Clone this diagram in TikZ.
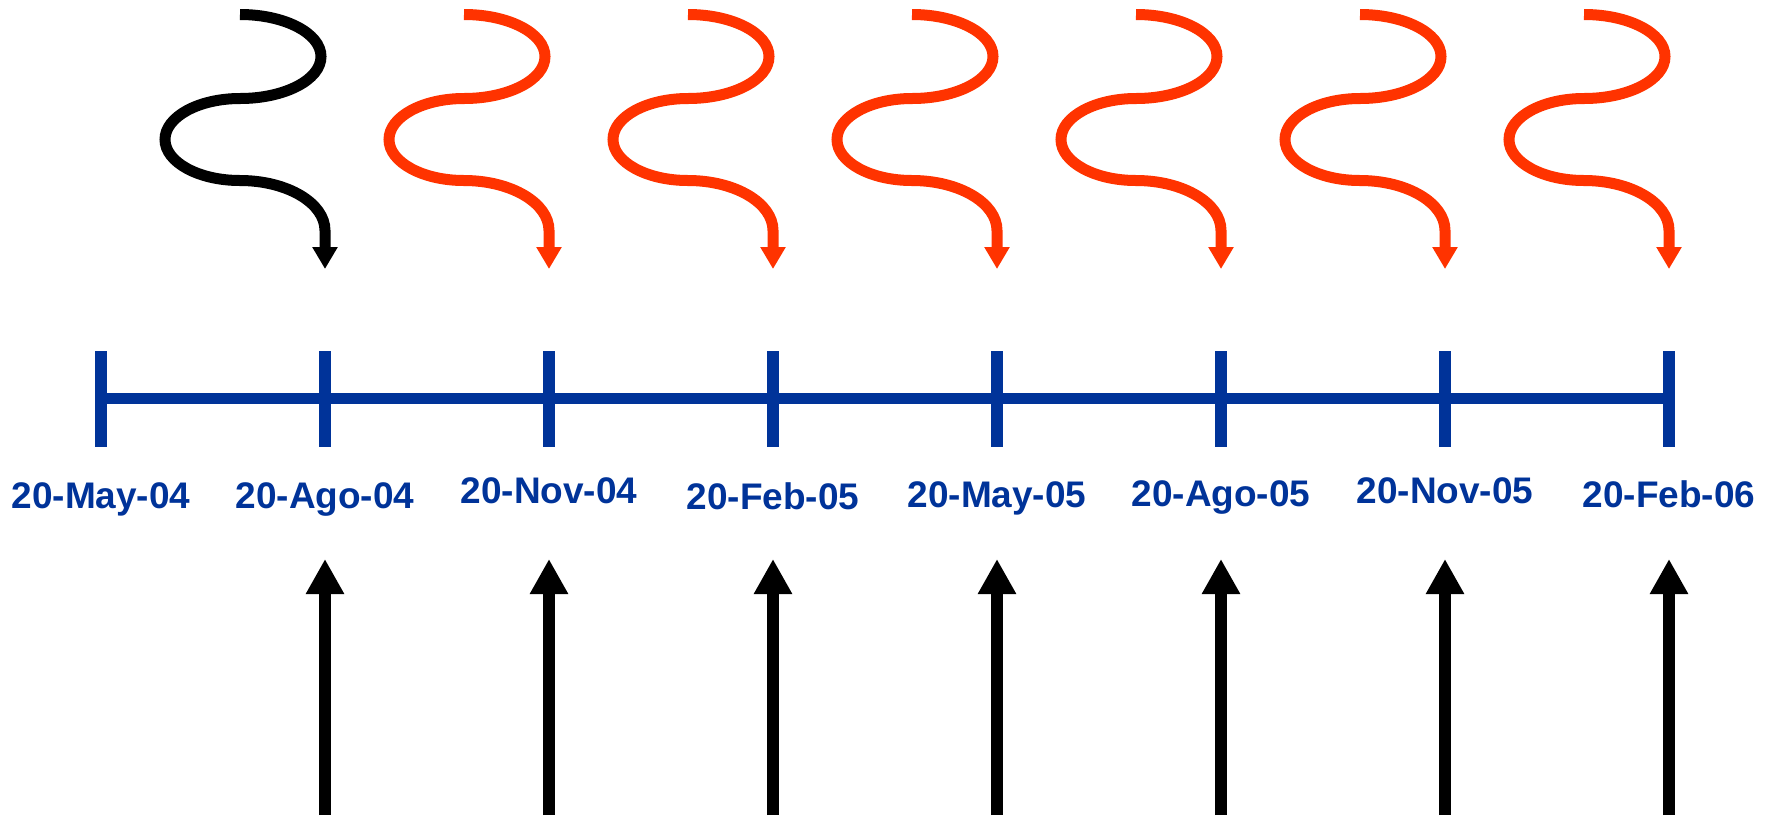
\documentclass[tikz,border=0pt]{standalone}
\usepackage{fontspec}
\setmainfont{Liberation Sans}
\usetikzlibrary{arrows.meta}
\definecolor{tlblue}{HTML}{003399}
\definecolor{tlred}{HTML}{FF3300}
\begin{document}
\begin{tikzpicture}[x=1pt,y=1pt,
  axisline/.style={draw=tlblue,line width=11pt},
  ticmark/.style={draw=tlblue,line width=12pt},
  datelabel/.style={text=tlblue,font=\fontsize{37}{41}\selectfont\bfseries,anchor=base,inner sep=0pt},
  wave/.style={line width=11pt,-{Triangle[width=24pt,length=22pt]}},
  uparrow/.style={draw=black,line width=12pt,-{Triangle[width=36pt,length=35pt]}}]
\useasboundingbox (0,0) rectangle (1772,-815);
% axis coordinates and labels
\foreach \i/\d/\b in {0/20-May-04/508,1/20-Ago-04/508,2/20-Nov-04/503,3/20-Feb-05/509,4/20-May-05/507,5/20-Ago-05/506,6/20-Nov-05/503,7/20-Feb-06/507}{
  \coordinate (t\i) at ({101+224*\i},-398.5);
  \node[datelabel] (l\i) at ({101+224*\i},-\b) {\d};
}
\draw[axisline] (t0) -- (t7);
\foreach \i in {0,...,7}{
  \draw[ticmark] ([yshift=47.5pt]t\i) -- ([yshift=-48.5pt]t\i);
}
% waves and arrows
\foreach \i/\c in {1/black,2/tlred,3/tlred,4/tlred,5/tlred,6/tlred,7/tlred}{
  \coordinate (w\i) at ({101+224*\i-85},-14.5);
  \coordinate (a\i) at ({101+224*\i},-269);
  \draw[wave,draw=\c,fill=none,\c] (w\i)
    arc[start angle=90,end angle=-90,x radius=81,y radius=42]
    arc[start angle=90,end angle=270,x radius=75,y radius=41]
    arc[start angle=90,end angle=0,x radius=85,y radius=50]
    -- (a\i);
  \coordinate (b\i) at ({101+224*\i},-815);
  \coordinate (u\i) at ({101+224*\i},-559);
  \draw[uparrow] (b\i) -- (u\i);
}
\end{tikzpicture}
\end{document}
